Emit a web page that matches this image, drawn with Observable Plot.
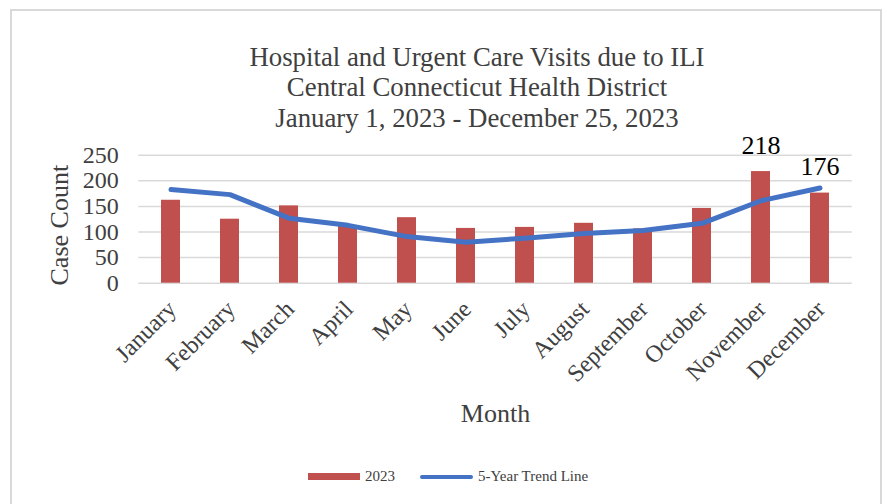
<!DOCTYPE html>
<html>
<head>
<meta charset="utf-8">
<script src="https://cdn.jsdelivr.net/npm/d3@7"></script>
<script src="https://cdn.jsdelivr.net/npm/@observablehq/plot@0.6"></script>
<style>
  html, body { margin: 0; padding: 0; background: #fff; }
  body { width: 887px; height: 504px; position: relative; overflow: hidden;
         font-family: "Liberation Serif", "Times New Roman", serif; color: #404040; }
  #frame { position: absolute; left: 10px; top: 9px; width: 872px; height: 520px;
           border: 2px solid #d9d9d9; box-sizing: border-box; }
  #title { position: absolute; left: 77px; width: 800px; top: 42px; text-align: center;
           font-size: 26.8px; line-height: 30.3px; color: #404040; }
  #chart { position: absolute; left: 0; top: 133px; }
  #legend { position: absolute; left: 308px; top: 466px; height: 21px; display: flex;
            align-items: center; font-size: 15px; color: #404040; white-space: nowrap; }
  .sw-bar { width: 52px; height: 7px; background: #C0504D; margin-right: 5px; }
  .sw-line { width: 53px; height: 4px; border-radius: 2px; background: #4472C4;
             margin-left: 25px; margin-right: 5px; }
</style>
</head>
<body>
<div id="frame"></div>
<div id="title">Hospital and Urgent Care Visits due to ILI<br>Central Connecticut Health District<br>January 1, 2023 - December 25, 2023</div>
<div id="chart"></div>
<div id="legend">
  <div class="sw-bar"></div><span>2023</span>
  <div class="sw-line"></div><span>5-Year Trend Line</span>
</div>
<script>
const months = ["January","February","March","April","May","June","July","August","September","October","November","December"];
const visits2023 = [162, 125, 151, 112, 128, 107, 109, 117, 106, 146, 218, 176];
const trend5yr = [183, 173, 127, 113, 91, 80, 88, 97, 103, 117, 161, 186];
const labeledMonths = ["November", "December"];
const yTicks = [0, 50, 100, 150, 200, 250];

const rows = months.map((m, i) => ({month: m, visits: visits2023[i], trend: trend5yr[i]}));

const chart = Plot.plot({
  width: 887,
  height: 307,
  marginLeft: 138.3,
  marginRight: 35.3,
  marginTop: 21.7,
  marginBottom: 157.3,
  style: {
    fontFamily: '"Liberation Serif", "Times New Roman", serif',
    fontSize: "24px",
    color: "#404040",
    background: "transparent",
    overflow: "visible"
  },
  x: {domain: months, paddingInner: 0.68, paddingOuter: 0.34, label: null},
  y: {domain: [0, 250], label: null},
  marks: [
    Plot.ruleY(yTicks, {stroke: "#d9d9d9", strokeWidth: 1.5}),
    Plot.axisY({ticks: yTicks, tickSize: 0, tickPadding: 20, fontSize: 24, label: null}),
    Plot.axisX({tickRotate: -45, tickSize: 0, tickPadding: 20, dx: 1, dy: 2, fontSize: 24,
                textAnchor: "end", lineAnchor: "middle", label: null}),
    Plot.barY(rows, {x: "month", y: "visits", fill: "#C0504D"}),
    Plot.line(rows, {x: "month", y: "trend", stroke: "#4472C4", strokeWidth: 5,
                     strokeLinecap: "round", strokeLinejoin: "round"}),
    Plot.text(rows.filter(d => labeledMonths.includes(d.month)),
              {x: "month", y: "visits", text: d => String(d.visits), dy: -26, fontSize: 26, fill: "#000"}),
    Plot.text(["Case Count"], {text: d => d, frameAnchor: "left", textAnchor: "middle", lineAnchor: "middle",
                               rotate: -90, dx: -79, dy: 6, fontSize: 26}),
    Plot.text(["Month"], {text: d => d, frameAnchor: "bottom", textAnchor: "middle", lineAnchor: "middle",
                          dy: 130.7, fontSize: 26})
  ]
});
document.getElementById("chart").appendChild(chart);
</script>
</body>
</html>
